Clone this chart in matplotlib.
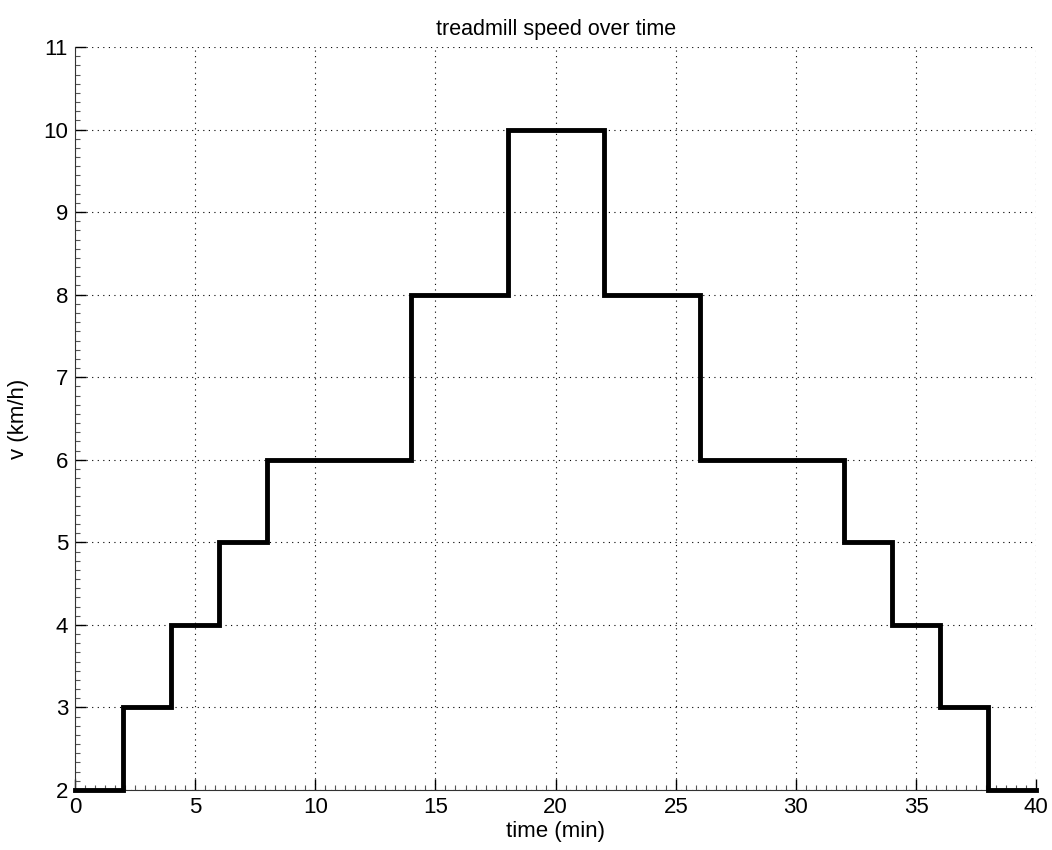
import matplotlib.pyplot as plt
from matplotlib.ticker import MultipleLocator

# step profile: speed held from each start time until the next
start_min = [0, 2, 4, 6, 8, 14, 18, 22, 26, 32, 34, 36, 38, 40]
speed_kmh = [2, 3, 4, 5, 6, 8, 10, 8, 6, 5, 4, 3, 2, 2]

plt.rcParams["font.family"] = ["Liberation Sans", "DejaVu Sans"]
plt.rcParams["font.size"] = 16

fig = plt.figure(figsize=(10.52, 8.5), dpi=100)
ax = fig.add_axes([0.0713, 0.0706, 0.9137, 0.8741])

ax.step(start_min, speed_kmh, where="post", color="black", lw=3.5,
        solid_joinstyle="miter", clip_on=False, zorder=3)

ax.set_xlim(0, 40)
ax.set_ylim(2, 11)
ax.xaxis.set_major_locator(MultipleLocator(5))
ax.yaxis.set_major_locator(MultipleLocator(1))
ax.xaxis.set_minor_locator(MultipleLocator(5 / 12))
ax.yaxis.set_minor_locator(MultipleLocator(1 / 9))
ax.tick_params(which="major", direction="in", length=8, width=1, pad=5,
               labelsize=16)
ax.tick_params(which="minor", direction="in", length=3.5, width=0.8,
               color="#555555")

for side in ("top", "right"):
    ax.spines[side].set_visible(False)
for side in ("left", "bottom"):
    ax.spines[side].set_color("#333333")

ax.grid(True, which="major", color="black", linestyle=(0, (1, 4)), lw=0.8)

ax.set_title("treadmill speed over time", fontsize=15.5, pad=9)
ax.set_xlabel("time (min)", labelpad=2)
ax.set_ylabel("v (km/h)", labelpad=10)

fig.savefig("out.png", dpi=100)
